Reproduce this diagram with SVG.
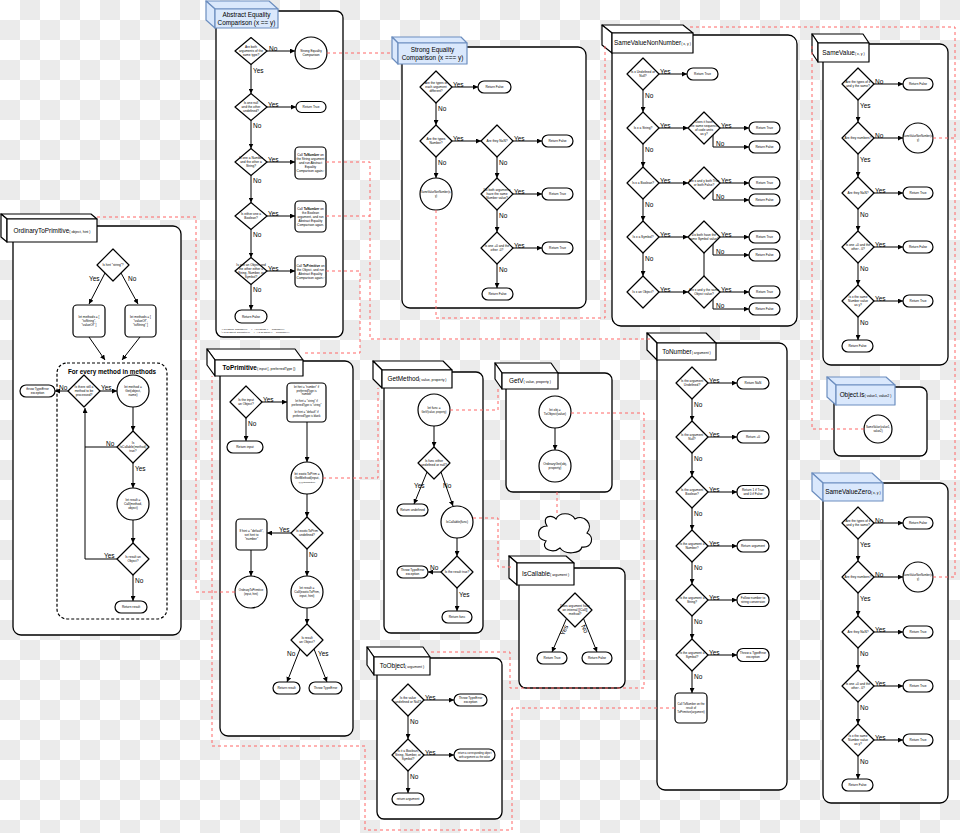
<svg xmlns="http://www.w3.org/2000/svg" width="960" height="833" viewBox="0 0 960 833">
<defs>
<pattern id="ck" width="40" height="40" patternUnits="userSpaceOnUse"><rect width="40" height="40" fill="#fff"/><rect x="20" y="0" width="20" height="20" fill="#ebebeb"/><rect x="0" y="20" width="20" height="20" fill="#ebebeb"/></pattern>
<marker id="a" viewBox="0 0 6 6" refX="6" refY="3" markerWidth="5" markerHeight="5" markerUnits="userSpaceOnUse" orient="auto"><path d="M0,0 L6,3 L0,6 z" fill="#000"/></marker>
<polygon id="d" points="0,-16 16,0 0,16 -16,0" fill="#fff" stroke="#000" stroke-width="1.2" stroke-linejoin="round"/>
<polygon id="d2" points="0,-13.5 16,0 0,13.5 -16,0" fill="#fff" stroke="#000" stroke-width="1.2" stroke-linejoin="round"/>
<style>
.box{fill:#fff;stroke:#000;stroke-width:1.3}
.hw{fill:#fff;stroke:#000;stroke-width:1.2;stroke-linejoin:round}
.hb{fill:#dae8fc;stroke:#6c8ebf;stroke-width:1.2;stroke-linejoin:round}
.n{fill:#fff;stroke:#000;stroke-width:1.2}
.e{fill:none;stroke:#000;stroke-width:1;marker-end:url(#a)}
.p{fill:none;stroke:#000;stroke-width:1}
.r{fill:none;stroke:#ff6666;stroke-width:1;stroke-dasharray:3 3}
text{font-family:"Liberation Sans",Arial,sans-serif;fill:#000}
.h{font-size:6.4px;text-anchor:middle}
.hs{font-size:3.5px}
.t{font-size:3.2px;text-anchor:middle}
.l{font-size:6.5px}
.tb{font-weight:bold}
.fn{font-size:2.2px}
</style>
</defs>
<rect width="960" height="833" fill="url(#ck)"/>

<!-- Abstract Equality -->
<g id="abstract-equality">
<rect class="box" x="216" y="11" width="127" height="326" rx="7"/>
<g id="ae-header"><polygon class="hb" points="215,9 206,1 269,1 278,9"/><polygon class="hb" points="215,9 206,1 206,20 215,28"/><rect class="hb" x="215" y="9" width="63" height="19"/><text class="h" x="246.5" y="17">Abstract Equality</text><text class="h" x="246.5" y="25">Comparison (x == y)</text></g>
<g id="ae-d1"><use href="#d2" x="251" y="51"/><text class="t" x="251" y="48.1"><tspan x="251">Are both</tspan><tspan x="251" dy="4">arguments of the</tspan><tspan x="251" dy="4">same type?</tspan></text></g>
<g id="ae-strong"><circle class="n" cx="311" cy="53" r="16"/><text class="t" x="311" y="52.1"><tspan x="311">Strong Equality</tspan><tspan x="311" dy="4">Comparison</tspan></text></g>
<g id="ae-d2"><use href="#d2" x="251" y="107"/><text class="t" x="251" y="104.1"><tspan x="251">Is one null</tspan><tspan x="251" dy="4">and the other</tspan><tspan x="251" dy="4">undefined?</tspan></text></g>
<g id="ae-true"><rect class="n" x="296" y="101.5" width="30" height="11" rx="5.5"/><text class="t" x="311" y="108.1">Return True</text></g>
<g id="ae-d3"><use href="#d2" x="251" y="162"/><text class="t" x="251" y="159.1"><tspan x="251">Is one a Number</tspan><tspan x="251" dy="4">and the other a</tspan><tspan x="251" dy="4">String?</tspan></text></g>
<g id="ae-b3"><rect class="n" x="295" y="147" width="31" height="32" rx="4"/><text class="t" x="310.5" y="156.1"><tspan x="310.5">Call <tspan class="tb">ToNumber</tspan> on</tspan><tspan x="310.5" dy="4">the String argument</tspan><tspan x="310.5" dy="4">and run Abstract</tspan><tspan x="310.5" dy="4">Equality</tspan><tspan x="310.5" dy="4">Comparison again.¹</tspan></text></g>
<g id="ae-d4"><use href="#d2" x="251" y="216"/><text class="t" x="251" y="215.1"><tspan x="251">Is either one a</tspan><tspan x="251" dy="4">Boolean?</tspan></text></g>
<g id="ae-b4"><rect class="n" x="295" y="201" width="31" height="31" rx="4"/><text class="t" x="310.5" y="209.6"><tspan x="310.5">Call <tspan class="tb">ToNumber</tspan> on</tspan><tspan x="310.5" dy="4">the Boolean</tspan><tspan x="310.5" dy="4">argument, and run</tspan><tspan x="310.5" dy="4">Abstract Equality</tspan><tspan x="310.5" dy="4">Comparison again.</tspan></text></g>
<g id="ae-d5"><use href="#d2" x="251" y="271"/><text class="t" x="251" y="266.1"><tspan x="251">Is one an Object and</tspan><tspan x="251" dy="4">the other either a</tspan><tspan x="251" dy="4">String, Number, or</tspan><tspan x="251" dy="4">Symbol?</tspan></text></g>
<g id="ae-b5"><rect class="n" x="295" y="256" width="31" height="31" rx="4"/><text class="t" x="310.5" y="266.6"><tspan x="310.5">Call <tspan class="tb">ToPrimitive</tspan> on</tspan><tspan x="310.5" dy="4">the Object, and run</tspan><tspan x="310.5" dy="4">Abstract Equality</tspan><tspan x="310.5" dy="4">Comparison again.²</tspan></text></g>
<g id="ae-false"><rect class="n" x="235" y="310" width="32" height="13" rx="6.5"/><text class="t" x="251" y="317.6">Return False</text></g>
<text class="fn" x="221" y="330">¹ x is a String: ToNumber(x) == y · y is a String: x == ToNumber(y)</text>
<text class="fn" x="221" y="333">² x is an Object: ToPrimitive(x) == y · y is an Object: x == ToPrimitive(y)</text>
<g class="edges">
<path class="e" d="M267,51H295"/><text class="l" x="269" y="50.5">No</text>
<path class="e" d="M251,64.5V93.5"/><text class="l" x="253" y="73">Yes</text>
<path class="e" d="M267,107H296"/><text class="l" x="268" y="106.5">Yes</text>
<path class="e" d="M251,120.5V148.5"/><text class="l" x="253" y="128">No</text>
<path class="e" d="M267,162H295"/><text class="l" x="268" y="161.5">Yes</text>
<path class="e" d="M251,175.5V202.5"/><text class="l" x="253" y="183">No</text>
<path class="e" d="M267,216H295"/><text class="l" x="268" y="215.5">Yes</text>
<path class="e" d="M251,229.5V257.5"/><text class="l" x="253" y="237">No</text>
<path class="e" d="M267,271H295"/><text class="l" x="268" y="270.5">Yes</text>
<path class="e" d="M251,284.5V310"/><text class="l" x="253" y="292">No</text>
</g>
</g>

<!-- Strong Equality -->
<g id="strong-equality">
<rect class="box" x="402" y="47" width="184" height="261" rx="8"/>
<g id="se-header"><polygon class="hb" points="398,43 392,37 461,37 467,43"/><polygon class="hb" points="398,43 392,37 392,58 398,64"/><rect class="hb" x="398" y="43" width="69" height="21"/><text class="h" x="432.5" y="52">Strong Equality</text><text class="h" x="432.5" y="60">Comparison (x === y)</text></g>
<g id="se-d1"><use href="#d" x="436" y="87"/><text class="t" x="436" y="84.1"><tspan x="436">Are the types of</tspan><tspan x="436" dy="4">each argument</tspan><tspan x="436" dy="4">different?</tspan></text></g>
<g id="se-f1"><rect class="n" x="478" y="81" width="33" height="12" rx="6"/><text class="t" x="494.5" y="88.1">Return False</text></g>
<g id="se-d2"><use href="#d" x="436" y="141"/><text class="t" x="436" y="140.1"><tspan x="436">Are the types</tspan><tspan x="436" dy="4">Number?</tspan></text></g>
<g id="se-d3"><use href="#d" x="497" y="141"/><text class="t" x="497" y="142.1">Are they NaN?</text></g>
<g id="se-f2"><rect class="n" x="542" y="135" width="31" height="12" rx="6"/><text class="t" x="557.5" y="142.1">Return False</text></g>
<g id="se-svnn"><circle class="n" cx="436" cy="194" r="16"/><text class="t" x="436" y="193.1"><tspan x="436" style="font-size:2.6px">SameValueNonNumber(x,</tspan><tspan x="436" dy="4" style="font-size:2.6px">y)</tspan></text></g>
<g id="se-d4"><use href="#d" x="497" y="194"/><text class="t" x="497" y="191.1"><tspan x="497">Do both arguments</tspan><tspan x="497" dy="4">have the same</tspan><tspan x="497" dy="4">Number value?</tspan></text></g>
<g id="se-t1"><rect class="n" x="542" y="188" width="31" height="12" rx="6"/><text class="t" x="557.5" y="195.1">Return True</text></g>
<g id="se-d5"><use href="#d" x="497" y="248"/><text class="t" x="497" y="247.1"><tspan x="497">Is one +0 and the</tspan><tspan x="497" dy="4">other -0?</tspan></text></g>
<g id="se-t2"><rect class="n" x="542" y="242" width="31" height="12" rx="6"/><text class="t" x="557.5" y="249.1">Return True</text></g>
<g id="se-f3"><rect class="n" x="482" y="288" width="31" height="12" rx="6"/><text class="t" x="497.5" y="295.1">Return False</text></g>
<g class="edges">
<path class="e" d="M452,87H478"/><text class="l" x="453" y="86.5">Yes</text>
<path class="e" d="M436,103V125"/><text class="l" x="438" y="111">No</text>
<path class="e" d="M452,141H481"/><text class="l" x="453" y="140.5">Yes</text>
<path class="e" d="M513,141H542"/><text class="l" x="514" y="140.5">Yes</text>
<path class="e" d="M436,157V178"/><text class="l" x="438" y="165">No</text>
<path class="e" d="M497,157V178"/><text class="l" x="499" y="165">No</text>
<path class="e" d="M513,194H542"/><text class="l" x="514" y="193.5">Yes</text>
<path class="e" d="M497,210V232"/><text class="l" x="499" y="218">No</text>
<path class="e" d="M513,248H542"/><text class="l" x="514" y="247.5">Yes</text>
<path class="e" d="M497,264V288"/><text class="l" x="499" y="272">No</text>
</g>
</g>

<!-- SameValueNonNumber -->
<g id="same-value-non-number">
<rect class="box" x="612" y="35" width="185" height="291" rx="9"/>
<g id="svnn-header"><polygon class="hw" points="612,33 602,25 683,25 693,33"/><polygon class="hw" points="612,33 602,25 602,45 612,53"/><rect class="hw" x="612" y="33" width="81" height="20"/><text class="h" x="652.5" y="45.2">SameValueNonNumber<tspan class="hs">( x, y )</tspan></text></g>
<g id="svnn-d1"><use href="#d" x="643" y="74"/><text class="t" x="643" y="73.1"><tspan x="643">Is x Undefined or</tspan><tspan x="643" dy="4">Null?</tspan></text></g>
<g id="svnn-t1"><rect class="n" x="687" y="68" width="31" height="12" rx="6"/><text class="t" x="702.5" y="75.1">Return True</text></g>
<g id="svnn-d2"><use href="#d" x="643" y="128"/><text class="t" x="643" y="129.1">Is x a String?</text></g>
<g id="svnn-d2b"><use href="#d" x="704" y="128"/><text class="t" x="704" y="123.1"><tspan x="704">Does it have</tspan><tspan x="704" dy="4">the same sequence</tspan><tspan x="704" dy="4">of code units</tspan><tspan x="704" dy="4">as y?</tspan></text></g>
<g id="svnn-t2"><rect class="n" x="749" y="122" width="31" height="12" rx="6"/><text class="t" x="764.5" y="129.1">Return True</text></g>
<g id="svnn-f2"><rect class="n" x="749" y="141" width="31" height="12" rx="6"/><text class="t" x="764.5" y="148.1">Return False</text></g>
<g id="svnn-d3"><use href="#d" x="643" y="183"/><text class="t" x="643" y="184.1">Is x a Boolean?</text></g>
<g id="svnn-d3b"><use href="#d" x="704" y="183"/><text class="t" x="704" y="182.1"><tspan x="704">Are x and y both True</tspan><tspan x="704" dy="4">or both False?</tspan></text></g>
<g id="svnn-t3"><rect class="n" x="749" y="177" width="31" height="12" rx="6"/><text class="t" x="764.5" y="184.1">Return True</text></g>
<g id="svnn-f3"><rect class="n" x="749" y="194" width="31" height="12" rx="6"/><text class="t" x="764.5" y="201.1">Return False</text></g>
<g id="svnn-d4"><use href="#d" x="643" y="237"/><text class="t" x="643" y="238.1">Is x a Symbol?</text></g>
<g id="svnn-d4b"><use href="#d" x="704" y="237"/><text class="t" x="704" y="236.1"><tspan x="704">Do both have the</tspan><tspan x="704" dy="4">same Symbol value?</tspan></text></g>
<g id="svnn-t4"><rect class="n" x="749" y="231" width="31" height="12" rx="6"/><text class="t" x="764.5" y="238.1">Return True</text></g>
<g id="svnn-f4"><rect class="n" x="749" y="249" width="31" height="12" rx="6"/><text class="t" x="764.5" y="256.1">Return False</text></g>
<g id="svnn-d5"><use href="#d" x="643" y="292"/><text class="t" x="643" y="293.1">Is x an Object?</text></g>
<g id="svnn-d5b"><use href="#d" x="704" y="292"/><text class="t" x="704" y="291.1"><tspan x="704">Are x and y the same</tspan><tspan x="704" dy="4">Object value?</tspan></text></g>
<g id="svnn-t5"><rect class="n" x="749" y="286" width="31" height="12" rx="6"/><text class="t" x="764.5" y="293.1">Return True</text></g>
<g id="svnn-f5"><rect class="n" x="749" y="303" width="31" height="12" rx="6"/><text class="t" x="764.5" y="310.1">Return False</text></g>
<g class="edges">
<path class="e" d="M659,74H687"/><text class="l" x="660" y="73.5">Yes</text>
<path class="e" d="M643,90V112"/><text class="l" x="645" y="98">No</text>
<path class="e" d="M659,128H688"/><text class="l" x="660" y="127.5">Yes</text>
<path class="e" d="M720,128H749"/><text class="l" x="721" y="127.5">Yes</text>
<path class="e" d="M713,135V147H749"/><text class="l" x="716" y="145.5">No</text>
<path class="e" d="M643,144V167"/><text class="l" x="645" y="152">No</text>
<path class="e" d="M659,183H688"/><text class="l" x="660" y="182.5">Yes</text>
<path class="e" d="M720,183H749"/><text class="l" x="721" y="182.5">Yes</text>
<path class="e" d="M713,190V200H749"/><text class="l" x="716" y="198.5">No</text>
<path class="e" d="M643,199V221"/><text class="l" x="645" y="207">No</text>
<path class="e" d="M659,237H688"/><text class="l" x="660" y="236.5">Yes</text>
<path class="e" d="M720,237H749"/><text class="l" x="721" y="236.5">Yes</text>
<path class="e" d="M713,244V255H749"/><text class="l" x="716" y="253.5">No</text>
<path class="e" d="M643,253V276"/><text class="l" x="645" y="261">No</text>
<path class="p" d="M704,253V276"/>
<path class="e" d="M659,292H688"/><text class="l" x="660" y="291.5">Yes</text>
<path class="e" d="M720,292H749"/><text class="l" x="721" y="291.5">Yes</text>
<path class="e" d="M713,299V309H749"/><text class="l" x="716" y="307.5">No</text>
</g>
</g>

<!-- SameValue -->
<g id="same-value">
<rect class="box" x="823" y="44" width="125" height="321" rx="8"/>
<g id="sv-header"><polygon class="hw" points="818,43 812,34 863,34 869,43"/><polygon class="hw" points="818,43 812,34 812,53 818,62"/><rect class="hw" x="818" y="43" width="51" height="19"/><text class="h" x="843.5" y="54.7">SameValue<tspan class="hs">( x, y )</tspan></text></g>
<g id="sv-d1"><use href="#d" x="858" y="84"/><text class="t" x="858" y="83.1"><tspan x="858">Are the types of x</tspan><tspan x="858" dy="4">and y the same?</tspan></text></g>
<g id="sv-f1"><rect class="n" x="903" y="78" width="30" height="12" rx="6"/><text class="t" x="918" y="85.1">Return False</text></g>
<g id="sv-d2"><use href="#d" x="858" y="138"/><text class="t" x="858" y="139.1">Are they numbers?</text></g>
<g id="sv-svnn"><circle class="n" cx="918" cy="138" r="15"/><text class="t" x="918" y="137.1"><tspan x="918" style="font-size:2.6px">SameValueNonNumber(x,</tspan><tspan x="918" dy="4" style="font-size:2.6px">y)</tspan></text></g>
<g id="sv-d3"><use href="#d" x="858" y="193"/><text class="t" x="858" y="194.1">Are they NaN?</text></g>
<g id="sv-t1"><rect class="n" x="903" y="187" width="30" height="12" rx="6"/><text class="t" x="918" y="194.1">Return True</text></g>
<g id="sv-d4"><use href="#d" x="858" y="247"/><text class="t" x="858" y="246.1"><tspan x="858">Is one +0 and the</tspan><tspan x="858" dy="4">other - 0?</tspan></text></g>
<g id="sv-f2"><rect class="n" x="903" y="241" width="30" height="12" rx="6"/><text class="t" x="918" y="248.1">Return False</text></g>
<g id="sv-d5"><use href="#d" x="858" y="301"/><text class="t" x="858" y="298.1"><tspan x="858">Is x the same</tspan><tspan x="858" dy="4">Number value</tspan><tspan x="858" dy="4">as y?</tspan></text></g>
<g id="sv-t2"><rect class="n" x="903" y="295" width="30" height="12" rx="6"/><text class="t" x="918" y="302.1">Return True</text></g>
<g id="sv-f3"><rect class="n" x="842" y="340" width="31" height="12" rx="6"/><text class="t" x="857.5" y="347.1">Return False</text></g>
<g class="edges">
<path class="e" d="M874,84H903"/><text class="l" x="875" y="83.5">No</text>
<path class="e" d="M858,100V122"/><text class="l" x="860" y="108">Yes</text>
<path class="e" d="M874,138H903"/><text class="l" x="875" y="137.5">No</text>
<path class="e" d="M858,154V177"/><text class="l" x="860" y="162">Yes</text>
<path class="e" d="M874,193H903"/><text class="l" x="875" y="192.5">Yes</text>
<path class="e" d="M858,209V231"/><text class="l" x="860" y="217">No</text>
<path class="e" d="M874,247H903"/><text class="l" x="875" y="246.5">Yes</text>
<path class="e" d="M858,263V285"/><text class="l" x="860" y="271">No</text>
<path class="e" d="M874,301H903"/><text class="l" x="875" y="300.5">Yes</text>
<path class="e" d="M858,317V340"/><text class="l" x="860" y="325">No</text>
</g>
</g>

<!-- Object.is -->
<g id="object-is">
<rect class="box" x="834" y="387" width="93" height="69" rx="7"/>
<g id="ois-header"><polygon class="hb" points="836,385 827,377 886,377 895,385"/><polygon class="hb" points="836,385 827,377 827,397 836,405"/><rect class="hb" x="836" y="385" width="59" height="20"/><text class="h" x="865.5" y="397.2">Object.is<tspan class="hs">( value1, value2 )</tspan></text></g>
<g id="ois-sv"><circle class="n" cx="878" cy="429" r="14"/><text class="t" x="878" y="428.1"><tspan x="878" style="font-size:2.8px">SameValue(value1,</tspan><tspan x="878" dy="4" style="font-size:2.8px">value2)</tspan></text></g>
</g>

<!-- SameValueZero -->
<g id="same-value-zero">
<rect class="box" x="823" y="483" width="125" height="320" rx="8"/>
<g id="svz-header"><polygon class="hb" points="823,483 812,473 872,473 883,483"/><polygon class="hb" points="823,483 812,473 812,491 823,501"/><rect class="hb" x="823" y="483" width="60" height="18"/><text class="h" x="853" y="494.2">SameValueZero<tspan class="hs">( x, y )</tspan></text></g>
<g transform="translate(0,439)">
<g id="svz-d1"><use href="#d" x="858" y="84"/><text class="t" x="858" y="83.1"><tspan x="858">Are the types of x</tspan><tspan x="858" dy="4">and y the same?</tspan></text></g>
<g id="svz-f1"><rect class="n" x="903" y="78" width="30" height="12" rx="6"/><text class="t" x="918" y="85.1">Return False</text></g>
<g id="svz-d2"><use href="#d" x="858" y="138"/><text class="t" x="858" y="139.1">Are they numbers?</text></g>
<g id="svz-svnn"><circle class="n" cx="918" cy="138" r="15"/><text class="t" x="918" y="137.1"><tspan x="918" style="font-size:2.6px">SameValueNonNumber(x,</tspan><tspan x="918" dy="4" style="font-size:2.6px">y)</tspan></text></g>
<g id="svz-d3"><use href="#d" x="858" y="193"/><text class="t" x="858" y="194.1">Are they NaN?</text></g>
<g id="svz-t1"><rect class="n" x="903" y="187" width="30" height="12" rx="6"/><text class="t" x="918" y="194.1">Return True</text></g>
<g id="svz-d4"><use href="#d" x="858" y="247"/><text class="t" x="858" y="246.1"><tspan x="858">Is one +0 and the</tspan><tspan x="858" dy="4">other - 0?</tspan></text></g>
<g id="svz-t2"><rect class="n" x="903" y="241" width="30" height="12" rx="6"/><text class="t" x="918" y="248.1">Return True</text></g>
<g id="svz-d5"><use href="#d" x="858" y="301"/><text class="t" x="858" y="298.1"><tspan x="858">Is x the same</tspan><tspan x="858" dy="4">Number value</tspan><tspan x="858" dy="4">as y?</tspan></text></g>
<g id="svz-t3"><rect class="n" x="903" y="295" width="30" height="12" rx="6"/><text class="t" x="918" y="302.1">Return True</text></g>
<g id="svz-f2"><rect class="n" x="842" y="340" width="31" height="12" rx="6"/><text class="t" x="857.5" y="347.1">Return False</text></g>
<g class="edges">
<path class="e" d="M874,84H903"/><text class="l" x="875" y="83.5">No</text>
<path class="e" d="M858,100V122"/><text class="l" x="860" y="108">Yes</text>
<path class="e" d="M874,138H903"/><text class="l" x="875" y="137.5">No</text>
<path class="e" d="M858,154V177"/><text class="l" x="860" y="162">Yes</text>
<path class="e" d="M874,193H903"/><text class="l" x="875" y="192.5">Yes</text>
<path class="e" d="M858,209V231"/><text class="l" x="860" y="217">No</text>
<path class="e" d="M874,247H903"/><text class="l" x="875" y="246.5">Yes</text>
<path class="e" d="M858,263V285"/><text class="l" x="860" y="271">No</text>
<path class="e" d="M874,301H903"/><text class="l" x="875" y="300.5">Yes</text>
<path class="e" d="M858,317V340"/><text class="l" x="860" y="325">No</text>
</g>
</g>
</g>

<!-- OrdinaryToPrimitive -->
<g id="ordinary-to-primitive">
<rect class="box" x="13" y="226" width="168" height="409" rx="8"/>
<g id="otp-header"><polygon class="hw" points="7,219 1,214 91,214 97,219"/><polygon class="hw" points="7,219 1,214 1,237 7,242"/><rect class="hw" x="7" y="219" width="90" height="23"/><text class="h" x="52" y="232.7">OrdinaryToPrimitive<tspan class="hs">( object, hint )</tspan></text></g>
<g id="otp-d1"><use href="#d" x="113" y="265"/><text class="t" x="113" y="266.1">Is hint "string"?</text></g>
<g id="otp-m1"><rect class="n" x="73" y="305" width="32" height="32" rx="4"/><text class="t" x="89" y="318.1"><tspan x="89">let methods = [</tspan><tspan x="89" dy="4">"toString",</tspan><tspan x="89" dy="4">"valueOf" ]</tspan></text></g>
<g id="otp-m2"><rect class="n" x="125" y="305" width="31" height="32" rx="4"/><text class="t" x="140.5" y="318.1"><tspan x="140.5">let methods = [</tspan><tspan x="140.5" dy="4">"valueOf",</tspan><tspan x="140.5" dy="4">"toString" ]</tspan></text></g>
<g id="otp-loop"><rect x="57" y="363" width="110" height="256" rx="10" fill="none" stroke="#000" stroke-width="1.2" stroke-dasharray="3 2"/><text x="112" y="374" style="font-size:6.3px;font-weight:bold;text-anchor:middle">For every method in methods</text></g>
<g id="otp-d2"><use href="#d" x="84" y="391"/><text class="t" x="84" y="388.1"><tspan x="84">Is there still a</tspan><tspan x="84" dy="4">method to be</tspan><tspan x="84" dy="4">processed?</tspan></text></g>
<g id="otp-throw"><rect class="n" x="20" y="385" width="35" height="12" rx="6"/><text class="t" x="37.5" y="390.1"><tspan x="37.5">throw TypeError</tspan><tspan x="37.5" dy="4">exception</tspan></text></g>
<g id="otp-get"><circle class="n" cx="133" cy="391" r="16"/><text class="t" x="133" y="388.1"><tspan x="133">let method =</tspan><tspan x="133" dy="4">Get(object,</tspan><tspan x="133" dy="4">name)</tspan></text></g>
<g id="otp-d3"><use href="#d" x="133" y="447"/><text class="t" x="133" y="444.1"><tspan x="133">Is</tspan><tspan x="133" dy="4">IsCallable(method)</tspan><tspan x="133" dy="4">true?</tspan></text></g>
<g id="otp-call"><circle class="n" cx="133" cy="504" r="16"/><text class="t" x="133" y="501.1"><tspan x="133">let result =</tspan><tspan x="133" dy="4">Call(method,</tspan><tspan x="133" dy="4">object)</tspan></text></g>
<g id="otp-d4"><use href="#d" x="133" y="559"/><text class="t" x="133" y="558.1"><tspan x="133">Is result an</tspan><tspan x="133" dy="4">Object?</tspan></text></g>
<g id="otp-ret"><rect class="n" x="115" y="601" width="32" height="12" rx="6"/><text class="t" x="131" y="608.1">Return result</text></g>
<g class="edges">
<path class="e" d="M105,273L89,304"/><text class="l" x="89" y="281">Yes</text>
<path class="e" d="M121,273L138,304"/><text class="l" x="128" y="281">No</text>
<path class="e" d="M89,337L105,360"/>
<path class="e" d="M140,337L122,360"/>
<path class="e" d="M68,391H55"/><text class="l" x="59" y="390">No</text>
<path class="e" d="M100,391H117"/><text class="l" x="101" y="389.5">Yes</text>
<path class="e" d="M133,407V431"/>
<path class="e" d="M117,447H85V408"/><text class="l" x="106" y="445.5">No</text>
<path class="e" d="M133,463V488"/><text class="l" x="135" y="471">Yes</text>
<path class="e" d="M133,520V543"/>
<path class="p" d="M117,559H85V447"/><text class="l" x="104" y="557.5">Yes</text>
<path class="e" d="M133,575V601"/><text class="l" x="135" y="583">No</text>
</g>
</g>

<!-- ToPrimitive -->
<g id="to-primitive">
<rect class="box" x="220" y="361" width="133" height="375" rx="8"/>
<g id="tp-header"><polygon class="hw" points="215,360 207,349 295,349 303,360"/><polygon class="hw" points="215,360 207,349 207,365 215,376"/><rect class="hw" x="215" y="360" width="88" height="16"/><text class="h" x="259" y="370.2"><tspan font-weight="bold">ToPrimitive</tspan><tspan class="hs">( input [, preferredType ])</tspan></text></g>
<g id="tp-d1"><use href="#d" x="246" y="402"/><text class="t" x="246" y="401.1"><tspan x="246">Is the input</tspan><tspan x="246" dy="4">an Object?</tspan></text></g>
<g id="tp-hint"><rect class="n" x="287" y="383" width="39" height="39" rx="4"/><text class="t" x="306.5" y="388" style="font-size:2.8px"><tspan x="306.5">let hint = "number" if</tspan><tspan x="306.5" dy="3.6">preferredType is</tspan><tspan x="306.5" dy="3.6">"number"</tspan><tspan x="306.5" dy="7.2">let hint = "string" if</tspan><tspan x="306.5" dy="3.6">preferredType is "string"</tspan><tspan x="306.5" dy="7.2">let hint = "default" if</tspan><tspan x="306.5" dy="3.6">preferredType is blank</tspan></text></g>
<g id="tp-retin"><rect class="n" x="227" y="441" width="36" height="12" rx="6"/><text class="t" x="245" y="448.1">Return input</text></g>
<g id="tp-exotic"><circle class="n" cx="307" cy="478" r="16"/><text class="t" x="307" y="475.1"><tspan x="307">let exoticToPrim =</tspan><tspan x="307" dy="4">GetMethod(input,</tspan><tspan x="307" dy="4" style="font-size:2.4px">@@toPrimitive)</tspan></text></g>
<g id="tp-d2"><use href="#d" x="307" y="533"/><text class="t" x="307" y="532.1"><tspan x="307">Is exoticToPrim</tspan><tspan x="307" dy="4">undefined?</tspan></text></g>
<g id="tp-default"><rect class="n" x="236" y="519" width="31" height="31" rx="4"/><text class="t" x="251.5" y="531.6"><tspan x="251.5">If hint = "default",</tspan><tspan x="251.5" dy="4">set hint to</tspan><tspan x="251.5" dy="4">"number"</tspan></text></g>
<g id="tp-otp"><circle class="n" cx="251" cy="592" r="16"/><text class="t" x="251" y="591.1"><tspan x="251" style="font-size:2.8px">OrdinaryToPrimitive</tspan><tspan x="251" dy="4" style="font-size:2.8px">(input, hint)</tspan></text></g>
<g id="tp-call"><circle class="n" cx="307" cy="592" r="16"/><text class="t" x="307" y="589.1"><tspan x="307">let result =</tspan><tspan x="307" dy="4">Call(exoticToPrim,</tspan><tspan x="307" dy="4">input, hint)</tspan></text></g>
<g id="tp-d3"><use href="#d" x="307" y="640"/><text class="t" x="307" y="639.1"><tspan x="307">Is result</tspan><tspan x="307" dy="4">an Object?</tspan></text></g>
<g id="tp-retres"><rect class="n" x="273" y="682" width="27" height="12" rx="6"/><text class="t" x="286.5" y="689.1">Return result</text></g>
<g id="tp-throw"><rect class="n" x="309" y="682" width="33" height="12" rx="6"/><text class="t" x="325.5" y="689.1">Throw TypeError</text></g>
<g class="edges">
<path class="e" d="M262,402H287"/><text class="l" x="263" y="401.5">Yes</text>
<path class="e" d="M246,418V441"/><text class="l" x="248" y="426">No</text>
<path class="e" d="M307,422V462"/>
<path class="e" d="M307,494V517"/>
<path class="e" d="M291,533H267"/><text class="l" x="279" y="531.5">Yes</text>
<path class="e" d="M251,550V576"/>
<path class="e" d="M307,549V576"/><text class="l" x="309" y="557">No</text>
<path class="e" d="M307,608V624"/>
<path class="e" d="M300,649L287,682"/><text class="l" x="287" y="656">No</text>
<path class="e" d="M314,649L327,682"/><text class="l" x="318" y="656">Yes</text>
</g>
</g>

<!-- GetMethod -->
<g id="get-method">
<rect class="box" x="384" y="372" width="99" height="261" rx="7"/>
<g id="gm-header"><polygon class="hw" points="382,370 373,361 443,361 452,370"/><polygon class="hw" points="382,370 373,361 373,379 382,388"/><rect class="hw" x="382" y="370" width="70" height="18"/><text class="h" x="417" y="381.2">GetMethod<tspan class="hs">( value, property )</tspan></text></g>
<g id="gm-func"><circle class="n" cx="434" cy="410" r="16"/><text class="t" x="434" y="409.1"><tspan x="434">let func =</tspan><tspan x="434" dy="4" style="font-size:2.6px">GetV(value, property)</tspan></text></g>
<g id="gm-d1"><use href="#d" x="434" y="463"/><text class="t" x="434" y="462.1"><tspan x="434">Is func either</tspan><tspan x="434" dy="4">undefined or null?</tspan></text></g>
<g id="gm-undef"><rect class="n" x="397" y="504" width="31" height="12" rx="6"/><text class="t" x="412.5" y="511.1">Return undefined</text></g>
<g id="gm-iscallable"><circle class="n" cx="457" cy="522" r="16"/><text class="t" x="457" y="523.1">IsCallable(func)</text></g>
<g id="gm-d2"><use href="#d" x="457" y="572"/><text class="t" x="457" y="573.1">Is the result true?</text></g>
<g id="gm-throw"><rect class="n" x="397" y="566" width="31" height="12" rx="6"/><text class="t" x="412.5" y="571.1"><tspan x="412.5">Throw TypeError</tspan><tspan x="412.5" dy="4">exception</tspan></text></g>
<g id="gm-ret"><rect class="n" x="442" y="611" width="30" height="12" rx="6"/><text class="t" x="457" y="618.1">Return func</text></g>
<g class="edges">
<path class="e" d="M434,426V447"/>
<path class="e" d="M427,472L414,504"/><text class="l" x="414" y="488">Yes</text>
<path class="e" d="M441,472L453,506"/><text class="l" x="443" y="488">No</text>
<path class="e" d="M457,538V556"/>
<path class="e" d="M441,572H428"/><text class="l" x="430" y="570">No</text>
<path class="e" d="M457,588V611"/><text class="l" x="459" y="597">Yes</text>
</g>
</g>

<!-- GetV -->
<g id="get-v">
<rect class="box" x="506" y="373" width="106" height="119" rx="7"/>
<g id="gv-header"><polygon class="hw" points="502,373 495,363 551,363 558,373"/><polygon class="hw" points="502,373 495,363 495,379 502,389"/><rect class="hw" x="502" y="373" width="56" height="16"/><text class="h" x="530" y="383.2">GetV<tspan class="hs">( value, property )</tspan></text></g>
<g id="gv-obj"><circle class="n" cx="555" cy="412" r="16"/><text class="t" x="555" y="411.1"><tspan x="555">let obj =</tspan><tspan x="555" dy="4">ToObject(value)</tspan></text></g>
<g id="gv-get"><circle class="n" cx="555" cy="466" r="16"/><text class="t" x="555" y="465.1"><tspan x="555">OrdinaryGet(obj,</tspan><tspan x="555" dy="4">property)</tspan></text></g>
<g class="edges"><path class="e" d="M555,428V450"/></g>
</g>

<g id="cloud"><path d="M547,526 C537,526 535,539 546,541 C540,549 553,554 560,548 C565,555 580,554 582,547 C592,548 595,537 587,533 C594,524 584,514 575,519 C571,512 559,512 556,519 C552,514 541,516 547,526 Z" fill="#fff" stroke="#000" stroke-width="1.2"/></g>

<!-- IsCallable -->
<g id="is-callable">
<rect class="box" x="519" y="568" width="106" height="120" rx="7"/>
<g id="ic-header"><polygon class="hw" points="517,563 509,556 566,556 574,563"/><polygon class="hw" points="517,563 509,556 509,578 517,585"/><rect class="hw" x="517" y="563" width="57" height="22"/><text class="h" x="545.5" y="576.2">IsCallable<tspan class="hs">( argument )</tspan></text></g>
<g id="ic-d1"><polygon points="575,593 592,610 575,627 558,610" fill="#fff" stroke="#000" stroke-width="1.2" stroke-linejoin="round"/><text class="t" x="575" y="607.1"><tspan x="575">Does argument have</tspan><tspan x="575" dy="4">an internal [[Call]]</tspan><tspan x="575" dy="4">method?</tspan></text></g>
<g id="ic-true"><rect class="n" x="537" y="652" width="30" height="12" rx="6"/><text class="t" x="552" y="659.1">Return True</text></g>
<g id="ic-false"><rect class="n" x="582" y="652" width="30" height="12" rx="6"/><text class="t" x="597" y="659.1">Return False</text></g>
<g class="edges">
<path class="e" d="M566.5,618.5L552,652"/><text class="l" transform="translate(564,636) rotate(-65)">Yes</text>
<path class="e" d="M583.5,618.5L597,652"/><text class="l" transform="translate(581,626) rotate(65)">No</text>
</g>
</g>

<!-- ToNumber -->
<g id="to-number">
<rect class="box" x="657" y="343" width="130" height="447" rx="8"/>
<g id="tn-header"><polygon class="hw" points="657,343 647,333 706,333 716,343"/><polygon class="hw" points="657,343 647,333 647,350 657,360"/><rect class="hw" x="657" y="343" width="59" height="17"/><text class="h" x="686.5" y="353.7">ToNumber<tspan class="hs">( argument )</tspan></text></g>
<g id="tn-d1"><use href="#d" x="692" y="383"/><text class="t" x="692" y="382.1"><tspan x="692">Is the argument</tspan><tspan x="692" dy="4">Undefined?</tspan></text></g>
<g id="tn-p1"><rect class="n" x="737" y="377" width="32" height="12" rx="6"/><text class="t" x="753" y="384.1">Return NaN</text></g>
<g id="tn-d2"><use href="#d" x="692" y="437"/><text class="t" x="692" y="436.1"><tspan x="692">Is the argument</tspan><tspan x="692" dy="4">Null?</tspan></text></g>
<g id="tn-p2"><rect class="n" x="737" y="431" width="32" height="12" rx="6"/><text class="t" x="753" y="438.1">Return +0</text></g>
<g id="tn-d3"><use href="#d" x="692" y="492"/><text class="t" x="692" y="491.1"><tspan x="692">Is the argument</tspan><tspan x="692" dy="4">Boolean?</tspan></text></g>
<g id="tn-p3"><rect class="n" x="737" y="485.5" width="32" height="13" rx="6"/><text class="t" x="753" y="491.1"><tspan x="753">Return 1 if True</tspan><tspan x="753" dy="4">and 0 if False</tspan></text></g>
<g id="tn-d4"><use href="#d" x="692" y="546"/><text class="t" x="692" y="545.1"><tspan x="692">Is the argument a</tspan><tspan x="692" dy="4">Number?</tspan></text></g>
<g id="tn-p4"><rect class="n" x="737" y="540" width="32" height="12" rx="6"/><text class="t" x="753" y="547.1">Return argument</text></g>
<g id="tn-d5"><use href="#d" x="692" y="600"/><text class="t" x="692" y="599.1"><tspan x="692">Is the argument a</tspan><tspan x="692" dy="4">String?</tspan></text></g>
<g id="tn-p5"><rect class="n" x="737" y="593.5" width="32" height="13" rx="6"/><text class="t" x="753" y="599.1"><tspan x="753">Follow number to</tspan><tspan x="753" dy="4">string conversion</tspan></text></g>
<g id="tn-d6"><use href="#d" x="692" y="655"/><text class="t" x="692" y="654.1"><tspan x="692">Is the argument a</tspan><tspan x="692" dy="4">Symbol?</tspan></text></g>
<g id="tn-p6"><rect class="n" x="737" y="648.5" width="32" height="13" rx="6"/><text class="t" x="753" y="654.1"><tspan x="753">Throw a TypeError</tspan><tspan x="753" dy="4">exception</tspan></text></g>
<g id="tn-call"><rect class="n" x="675" y="693" width="32" height="30" rx="4"/><text class="t" x="691" y="705.1" style="font-size:2.8px"><tspan x="691">Call ToNumber on the</tspan><tspan x="691" dy="4">result of</tspan><tspan x="691" dy="4">ToPrimitive(argument)</tspan></text></g>
<g class="edges">
<path class="e" d="M708,383H737"/><text class="l" x="709" y="382.5">Yes</text>
<path class="e" d="M692,399V421"/><text class="l" x="694" y="407">No</text>
<path class="e" d="M708,437H737"/><text class="l" x="709" y="436.5">Yes</text>
<path class="e" d="M692,453V476"/><text class="l" x="694" y="461">No</text>
<path class="e" d="M708,492H737"/><text class="l" x="709" y="491.5">Yes</text>
<path class="e" d="M692,508V530"/><text class="l" x="694" y="516">No</text>
<path class="e" d="M708,546H737"/><text class="l" x="709" y="545.5">Yes</text>
<path class="e" d="M692,562V584"/><text class="l" x="694" y="570">No</text>
<path class="e" d="M708,600H737"/><text class="l" x="709" y="599.5">Yes</text>
<path class="e" d="M692,616V639"/><text class="l" x="694" y="624">No</text>
<path class="e" d="M708,655H737"/><text class="l" x="709" y="654.5">Yes</text>
<path class="e" d="M692,671V693"/><text class="l" x="694" y="679">No</text>
</g>
</g>

<!-- ToObject -->
<g id="to-object">
<rect class="box" x="377" y="658" width="125" height="161" rx="7"/>
<g id="to-header"><polygon class="hw" points="374,657 367,647 423,647 430,657"/><polygon class="hw" points="374,657 367,647 367,665 374,675"/><rect class="hw" x="374" y="657" width="56" height="18"/><text class="h" x="402" y="668.2">ToObject<tspan class="hs">( argument )</tspan></text></g>
<g id="to-d1"><use href="#d" x="408" y="700"/><text class="t" x="408" y="699.1"><tspan x="408">Is the value</tspan><tspan x="408" dy="4">undefined or Null?</tspan></text></g>
<g id="to-throw"><rect class="n" x="454" y="694" width="33" height="12" rx="6"/><text class="t" x="470.5" y="699.1"><tspan x="470.5">Throw TypeError</tspan><tspan x="470.5" dy="4">exception</tspan></text></g>
<g id="to-d2"><use href="#d" x="408" y="755"/><text class="t" x="408" y="752.1"><tspan x="408">Is it a Boolean,</tspan><tspan x="408" dy="4">String, Number, or</tspan><tspan x="408" dy="4">Symbol?</tspan></text></g>
<g id="to-obj"><rect class="n" x="454" y="749" width="41" height="12" rx="6"/><text class="t" x="474.5" y="754.1" style="font-size:2.6px"><tspan x="474.5">return a corresponding object</tspan><tspan x="474.5" dy="4">with argument as the value</tspan></text></g>
<g id="to-ret"><rect class="n" x="392" y="793" width="32" height="12" rx="6"/><text class="t" x="408" y="800.1">return argument</text></g>
<g class="edges">
<path class="e" d="M424,700H454"/><text class="l" x="425" y="699.5">Yes</text>
<path class="e" d="M408,716V739"/><text class="l" x="410" y="724">No</text>
<path class="e" d="M424,755H454"/><text class="l" x="425" y="754.5">Yes</text>
<path class="e" d="M408,771V793"/><text class="l" x="410" y="779">No</text>
</g>
</g>

<!-- cross references -->
<g id="connectors">
<path class="r" d="M327,53H393"/>
<path class="r" d="M326,162H370V339H650"/>
<path class="r" d="M326,216H370"/>
<path class="r" d="M326,271H360V353H303"/>
<path class="r" d="M436,210V318H605V46"/>
<path class="r" d="M690,27H955V577H933"/>
<path class="r" d="M933,138H955"/>
<path class="r" d="M864,429H812V46"/>
<path class="r" d="M450,410H498V389"/>
<path class="r" d="M473,518H498V567H512"/>
<path class="r" d="M323,478H378V388"/>
<path class="r" d="M97,217H196V592H235"/>
<path class="r" d="M571,413H644V688H510V652H430"/>
<path class="r" d="M675,708H512V830H365V746H212V376"/>
<path class="r" d="M557,492V514"/>
</g>
</svg>
